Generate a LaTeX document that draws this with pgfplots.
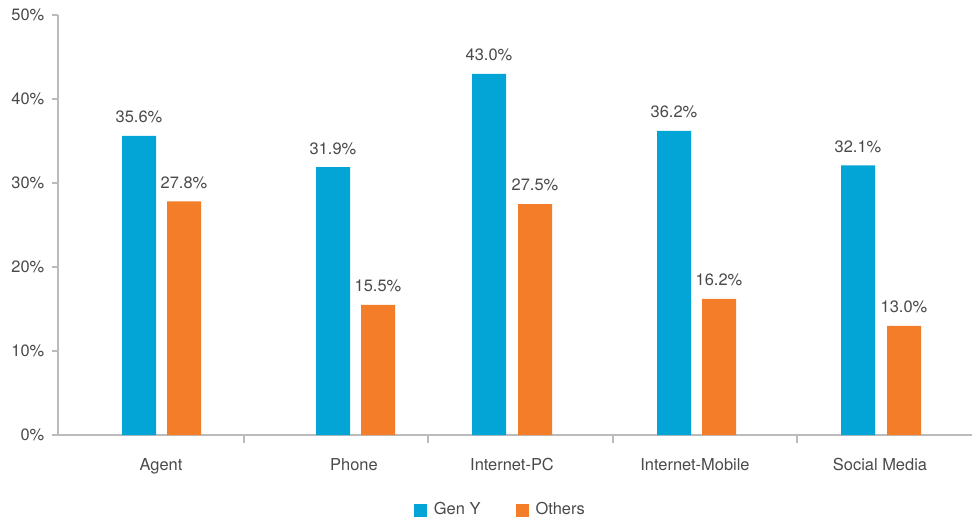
\documentclass[border=0pt]{standalone}
\usepackage{pgfplots}
\pgfplotsset{compat=1.18}
\usepackage{fontspec}
\setmainfont{TeX Gyre Heros}
\definecolor{geny}{HTML}{02A5D5}
\definecolor{others}{HTML}{F47D2A}
\definecolor{txt}{HTML}{4A4A4A}
\definecolor{axisgray}{HTML}{BBBBBB}
\begin{document}
\fontsize{16.5}{19}\selectfont
\begin{tikzpicture}
% page frame: 973 x 517 px, axis box at px (58..972, 15..435)
\useasboundingbox (-58bp,-82bp) rectangle (915bp,435bp);
\begin{axis}[
    scale only axis,
    width=914bp, height=420bp,
    xmin=58, xmax=972,
    ymin=0, ymax=50,
    axis x line*=bottom,
    axis y line*=left,
    axis line style={axisgray, line width=1.2bp},
    every tick/.style={axisgray, line width=1.2bp},
    tick align=outside,
    ytick={0,10,20,30,40,50},
    major tick length=6bp,
    yticklabel={\pgfmathprintnumber{\tick}\%},
    yticklabel style={txt, xshift=-2bp},
    xtick={161,354,512,695,880},
    xticklabels={Agent,Phone,Internet-PC,Internet-Mobile,Social Media},
    x tick style={draw=none},
    xticklabel style={txt, yshift=-12bp},
    extra x ticks={244,428,613,797},
    extra x tick labels={},
    extra x tick style={major tick length=8bp, x tick style={draw=axisgray}},
    /pgf/number format/assume math mode=true,
    ybar, bar shift=0pt, bar width=34,
    nodes near coords={\pgfmathprintnumber[fixed,fixed zerofill,precision=1]{\pgfplotspointmeta}\%},
    every node near coord/.append style={txt, anchor=south, yshift=7bp},
    legend style={at={(axis description cs:0.484,-0.1786)}, anchor=center,
        draw=none, fill=none, text=txt, legend columns=2,
        /tikz/every odd column/.append style={column sep=5bp},
        /tikz/every even column/.append style={column sep=33bp}},
    legend image code/.code={\fill[#1] (0bp,-6.5bp) rectangle (13bp,6.5bp);},
]
\addplot[fill=geny, draw=none] coordinates {
    (139,35.6) (333,31.9) (489,43.0) (674,36.2) (858,32.1)
};
\addlegendentry{Gen Y}
\addplot[fill=others, draw=none] coordinates {
    (184,27.8) (378,15.5) (535,27.5) (719,16.2) (904,13.0)
};
\addlegendentry{Others}
\end{axis}
\end{tikzpicture}
\end{document}
